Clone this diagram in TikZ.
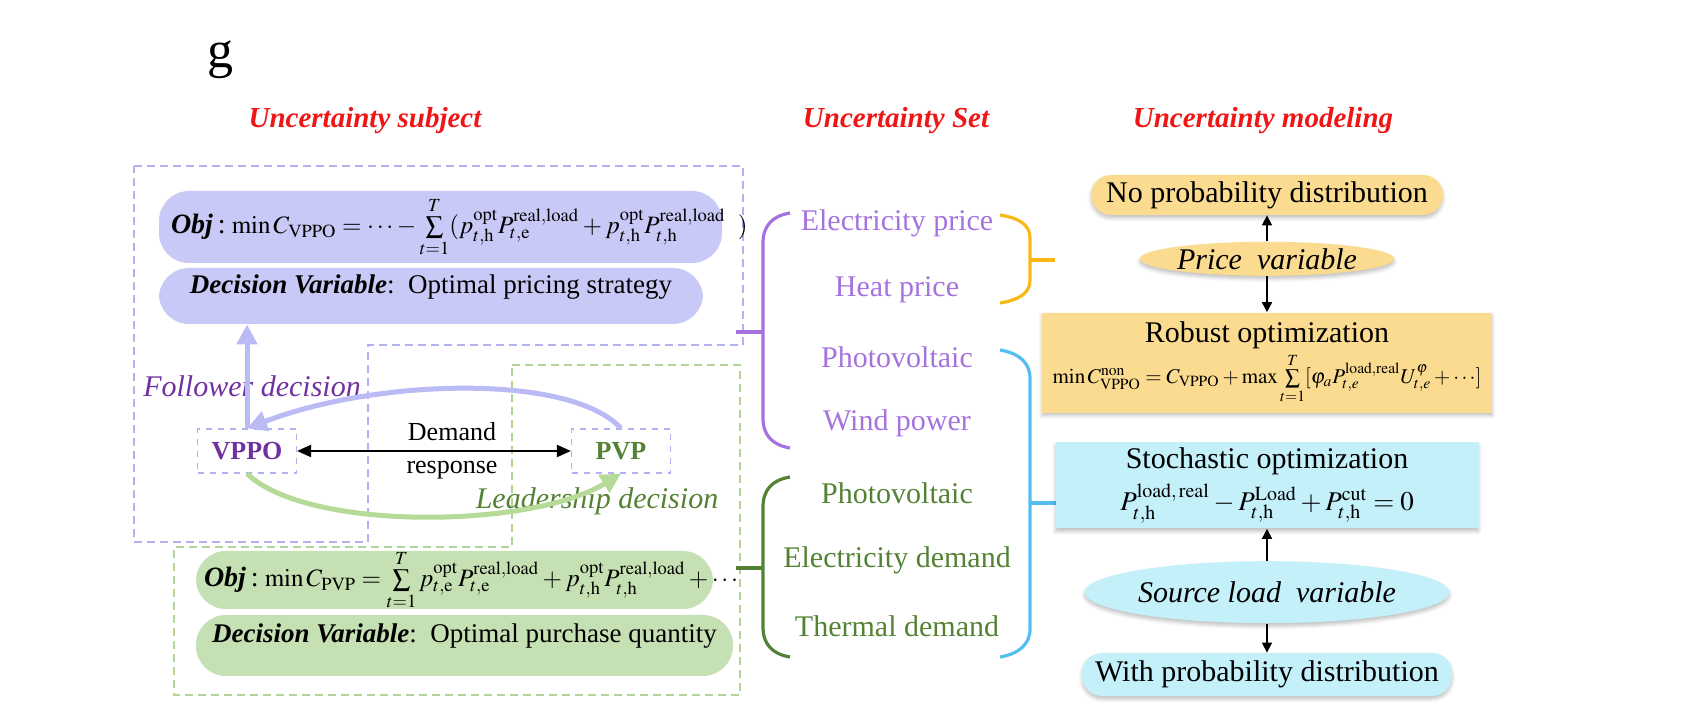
\documentclass[tikz,border=0pt]{standalone}
\usepackage{mathptmx}
\usepackage[no-math]{fontspec}
\setmainfont{Liberation Serif}
\usetikzlibrary{positioning, arrows.meta, shapes.geometric, fit, calc, shadows.blur}

\definecolor{pillblue}{RGB}{201,201,247}
\definecolor{pillgreen}{RGB}{197,224,178}
\definecolor{boxorange}{RGB}{251,219,143}
\definecolor{boxcyan}{RGB}{196,240,250}
\definecolor{dashblue}{RGB}{178,178,242}
\definecolor{dashgreen}{RGB}{178,212,150}
\definecolor{setpurple}{RGB}{165,115,222}
\definecolor{deeppurple}{RGB}{112,48,160}
\definecolor{deepgreen}{RGB}{84,130,53}
\definecolor{arrowblue}{RGB}{186,186,245}
\definecolor{arrowgreen}{RGB}{182,218,152}
\definecolor{braceorange}{RGB}{250,184,20}
\definecolor{braceblue}{RGB}{85,190,240}
\definecolor{headred}{RGB}{238,22,22}

\begin{document}
\begin{tikzpicture}[
    x=0.5pt, y=-0.5pt,
    font=\fontsize{15}{18}\selectfont,
    head/.style={font=\fontsize{14.5}{17}\selectfont\bfseries\itshape, text=headred},
    setitem/.style={font=\fontsize{15}{18}\selectfont},
    note/.style={font=\fontsize{15}{18}\selectfont\itshape},
    pill/.style={rectangle, rounded corners=15pt, inner sep=0pt},
    bluepill/.style={pill, fill=pillblue},
    greenpill/.style={pill, fill=pillgreen},
    formula/.style={anchor=west, inner sep=0pt, font=\fontsize{12.5}{15}\selectfont},
    decision/.style={font=\fontsize{13.5}{16}\selectfont},
    actor/.style={rectangle, draw=dashblue, dashed, line width=0.6pt, minimum width=49.5pt, minimum height=22pt, font=\fontsize{13}{15}\selectfont\bfseries},
    region/.style={dash pattern=on 4pt off 2.5pt, line width=1pt},
    curly/.style={line width=1.6pt},
    decarrow/.style={-{Triangle[length=10pt, width=10pt]}, line width=2.5pt},
    biarrow/.style={{Triangle[length=7pt, width=6pt]}-{Triangle[length=7pt, width=6pt]}, line width=1pt},
    arrow/.style={-{Triangle[length=5pt, width=5pt]}, line width=0.8pt},
    shade/.style={blur shadow={shadow xshift=0pt, shadow yshift=-1.5pt, shadow blur steps=5, shadow opacity=25}},
    modelbox/.style={rectangle, inner sep=0pt, align=center, shade},
]
\useasboundingbox (0,0) rectangle (1682,726);

% panel letter and column heads
\node[font=\fontsize{26}{30}\selectfont] (panel) at (220,60) {g};
\node[head] (hsubject) at (365,121) {Uncertainty subject};
\node[head] (hset) at (896,121) {Uncertainty Set};
\node[head] (hmodel) at (1263,121) {Uncertainty modeling};

% dashed regions
\draw[region, draw=dashblue] (134,166) -- (743,166) -- (743,345) -- (368,345) -- (368,542) -- (134,542) -- cycle;
\draw[region, draw=dashgreen] (512,365) -- (740,365) -- (740,695) -- (174,695) -- (174,547) -- (512,547) -- cycle;

% VPPO side
\node[bluepill, fit={(159,191) (722,263)}] (vppoobj) {};
\node[formula] (vppoobjtext) at ($(vppoobj.west)+(12,0)$) {{\fontsize{14}{16}\selectfont\textbf{\textit{Obj}}\,:}\ $\min C_{\mathrm{VPPO}} = \cdots - \sum\limits_{t=1}^{T}(p_{t,\mathrm{h}}^{\mathrm{opt}}P_{t,\mathrm{e}}^{\mathrm{real,load}} + p_{t,\mathrm{h}}^{\mathrm{opt}}P_{t,\mathrm{h}}^{\mathrm{real,load}}\ \ )$};
\node[bluepill, fit={(159,268) (703,324)}, decision] (vppodec) {\textbf{\textit{Decision Variable}}:\ \ Optimal pricing strategy};

% PVP side
\node[greenpill, fit={(196,551) (713,609)}] (pvpobj) {};
\node[formula] (pvpobjtext) at ($(pvpobj.west)+(8,0)$) {{\fontsize{14}{16}\selectfont\textbf{\textit{Obj}}\,:}\ $\min C_{\mathrm{PVP}} = \sum\limits_{t=1}^{T} p_{t,\mathrm{e}}^{\mathrm{opt}}P_{t,\mathrm{e}}^{\mathrm{real,load}} + p_{t,\mathrm{h}}^{\mathrm{opt}}P_{t,\mathrm{h}}^{\mathrm{real,load}} + \cdots$};
\node[greenpill, fit={(196,615) (733,676)}, decision] (pvpdec) {\textbf{\textit{Decision Variable}}:\ \ Optimal purchase quantity};

% game between the two actors
\node[actor, text=deeppurple] (vppo) at (247,451) {VPPO};
\node[actor, text=deepgreen] (pvp) at (621,451) {PVP};
\node[align=center, font=\fontsize{13}{16.5}\selectfont] (demand) at (452,451) {Demand\\response};
\node[note, text=deeppurple] (follower) at (252,386) {Follower decision};
\node[note, text=deepgreen] (leader) at (597,501) {Leadership decision};

\draw[biarrow] (vppo) -- (pvp);
\draw[decarrow, draw=arrowblue] (vppo.north) -- (vppo.north |- vppodec.south);
\draw[decarrow, draw=arrowblue] (pvp.north) .. controls +(-50,-55) and +(130,-50) .. (vppo.north);
\draw[decarrow, draw=arrowgreen] (vppo.south) .. controls +(60,58) and +(-90,55) .. (pvp.south);

% uncertainty sets
\node[setitem, text=setpurple] (elecprice) at (897,223) {Electricity price};
\node[setitem, text=setpurple] (heatprice) at (897,290) {Heat price};
\node[setitem, text=setpurple] (pvsource) at (897,357) {Photovoltaic};
\node[setitem, text=setpurple] (wind) at (897,423) {Wind power};
\node[setitem, text=deepgreen] (pvload) at (897,493) {Photovoltaic};
\node[setitem, text=deepgreen] (elecdemand) at (897,560) {Electricity demand};
\node[setitem, text=deepgreen] (heatdemand) at (897,626) {Thermal demand};

% braces
\draw[curly, draw=setpurple] (790,213) .. controls (772,216) and (763,226) .. (763,243) -- (763,418) .. controls (763,435) and (772,445) .. (790,448);
\draw[curly, draw=setpurple] (763,332) -- (736,332);
\draw[curly, draw=deepgreen] (790,477) .. controls (772,480) and (763,490) .. (763,507) -- (763,627) .. controls (763,644) and (772,654) .. (790,657);
\draw[curly, draw=deepgreen] (763,568) -- (736,568);
\draw[curly, draw=braceorange] (1000,215) .. controls (1018,218) and (1030,224) .. (1030,238) -- (1030,280) .. controls (1030,294) and (1018,300) .. (1000,303);
\draw[curly, draw=braceorange] (1030,260) -- (1055,260);
\draw[curly, draw=braceblue] (1000,350) .. controls (1018,353) and (1030,362) .. (1030,378) -- (1030,629) .. controls (1030,645) and (1018,654) .. (1000,657);
\draw[curly, draw=braceblue] (1030,503) -- (1057,503);

% uncertainty modeling
\node[modelbox, fill=boxorange, rounded corners=10pt, minimum width=176pt, minimum height=20pt] (noprob) at (1267,195) {No probability distribution};
\node[ellipse, shade, fill=boxorange, inner sep=0pt, minimum width=123pt, minimum height=17pt, note, below=13pt of noprob] (pricevar) {Price\ \ variable};
\node[modelbox, fill=boxorange, minimum width=225pt, minimum height=50pt, below=18pt of pricevar] (robust) {Robust optimization\\[1pt]
  {\fontsize{10.5}{12}\selectfont$\min C_{\mathrm{VPPO}}^{\mathrm{non}} = C_{\mathrm{VPPO}} + \max\sum\limits_{t=1}^{T}[\varphi_{a}P_{t,e}^{\mathrm{load,real}}U_{t,e}^{\varphi} + \cdots]$}};
\node[modelbox, fill=boxcyan, minimum width=211.5pt, minimum height=43pt, below=14.5pt of robust] (stoch) {Stochastic optimization\\[3pt]
  {\fontsize{13.5}{15}\selectfont$P_{t,\mathrm{h}}^{\mathrm{load,\,real}} - P_{t,\mathrm{h}}^{\mathrm{Load}} + P_{t,\mathrm{h}}^{\mathrm{cut}} = 0$}};
\node[ellipse, shade, fill=boxcyan, inner sep=0pt, minimum width=163.5pt, minimum height=31pt, note, below=16pt of stoch] (sourcevar) {Source load\ \ variable};
\node[modelbox, fill=boxcyan, rounded corners=10pt, minimum width=185pt, minimum height=21.5pt, below=14.5pt of sourcevar] (withprob) {With probability distribution};

\draw[arrow] (pricevar.north) -- (pricevar.north |- noprob.south);
\draw[arrow] (pricevar.south) -- (pricevar.south |- robust.north);
\draw[arrow] (sourcevar.north) -- (sourcevar.north |- stoch.south);
\draw[arrow] (sourcevar.south) -- (sourcevar.south |- withprob.north);

\end{tikzpicture}
\end{document}
